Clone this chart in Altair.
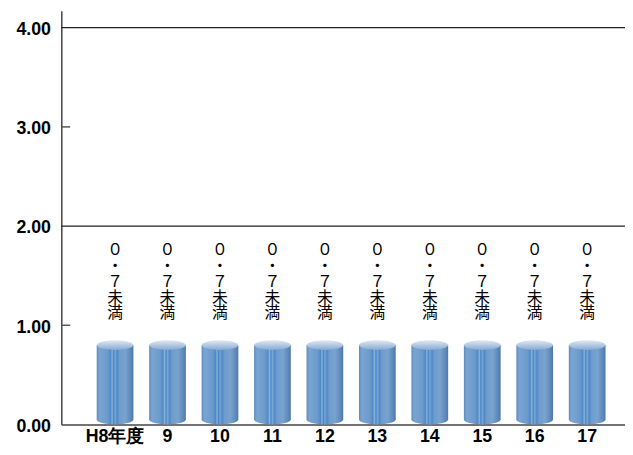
import altair as alt
import pandas as pd

# ---- data ----
years = ["H8年度", "9", "10", "11", "12", "13", "14", "15", "16", "17"]
values = [0.8, 0.8, 0.8, 0.8, 0.8, 0.8, 0.8, 0.8, 0.8, 0.8]
notes = ["0.7未満"] * 10
y_ticks = [0, 1, 2, 3, 4]
grid_values = [2, 4]
minor_ticks = [1, 3]

# vertical writing of the note (full-width characters, one per line)
fw = str.maketrans("0123456789.", "０１２３４５６７８９・")
df = pd.DataFrame({
    "year": years,
    "value": values,
    "note": ["\n".join(n.translate(fw)) for n in notes],
})
grid_df = pd.DataFrame({"g": grid_values})
tick_df = pd.DataFrame({"t": minor_ticks})

LABEL_FONT = "Liberation Sans"

y_scale = alt.Scale(domain=[0, 4.17], nice=False, zero=True)
y_axis = alt.Axis(title=None, values=y_ticks, format=".2f", grid=False, ticks=False,
                  domainColor="#444", domainWidth=1.5, labelFont=LABEL_FONT,
                  labelFontSize=18, labelFontWeight="bold", labelColor="black",
                  labelPadding=11, labelOffset=2)
x_enc = alt.X(
    "year:N", sort=years,
    scale=alt.Scale(paddingInner=0.3, paddingOuter=0.523, align=0.645),
    axis=alt.Axis(title=None, labelAngle=0, ticks=False, domainColor="#444",
                  domainWidth=1.5, labelFont=LABEL_FONT, labelFontWeight="bold",
                  labelFontSize=18, labelColor="black", labelPadding=3),
)
y_enc = alt.Y("value:Q", scale=y_scale, axis=y_axis)

body_grad = alt.Gradient(
    gradient="linear", x1=0, x2=1, y1=0, y2=0,
    stops=[
        alt.GradientStop(offset=0.0, color="#5d8cc0"),
        alt.GradientStop(offset=0.08, color="#7aa5d2"),
        alt.GradientStop(offset=0.3, color="#6c9acb"),
        alt.GradientStop(offset=0.38, color="#4f8ac8"),
        alt.GradientStop(offset=0.42, color="#8ab4dc"),
        alt.GradientStop(offset=0.46, color="#4a86c8"),
        alt.GradientStop(offset=0.5, color="#79a6d4"),
        alt.GradientStop(offset=0.56, color="#4f8ac8"),
        alt.GradientStop(offset=0.62, color="#6e9ccd"),
        alt.GradientStop(offset=0.78, color="#79a3cf"),
        alt.GradientStop(offset=0.92, color="#5f8bbb"),
        alt.GradientStop(offset=1.0, color="#4d78a8"),
    ],
)
top_grad = alt.Gradient(
    gradient="linear", x1=0, x2=0, y1=0, y2=1,
    stops=[
        alt.GradientStop(offset=0.0, color="#e2e9f3"),
        alt.GradientStop(offset=1.0, color="#86a9d2"),
    ],
)
ELLIPSE = "M-1,0A1,0.27,0,1,1,1,0A1,0.27,0,1,1,-1,0Z"

base = alt.Chart(df)
body = base.mark_bar(fill=body_grad, y2Offset=-5).encode(
    x=x_enc, y=y_enc, y2=alt.datum(0)
)
grid = alt.Chart(grid_df).mark_rule(color="#222", strokeWidth=1.2).encode(
    y=alt.Y("g:Q", scale=y_scale, axis=y_axis)
)
ticks = alt.Chart(tick_df).mark_rule(color="#555", strokeWidth=1.5).encode(
    y=alt.Y("t:Q", scale=y_scale, axis=y_axis), x=alt.value(0), x2=alt.value(9)
)
bottom = base.mark_point(shape=ELLIPSE, size=1369, filled=True, fill=body_grad,
                         opacity=1, strokeWidth=0, yOffset=-5).encode(
    x=alt.X("year:N", sort=years), y=alt.datum(0)
)
top = base.mark_point(shape=ELLIPSE, size=1369, filled=True, fill=top_grad,
                      opacity=1, strokeWidth=0).encode(
    x=alt.X("year:N", sort=years), y=alt.Y("value:Q", scale=y_scale, axis=y_axis)
)
text = base.mark_text(lineBreak="\n", font="Noto Sans CJK JP", fontSize=16,
                      lineHeight=16, baseline="middle", dy=-96, color="black").encode(
    x=alt.X("year:N", sort=years), y=alt.Y("value:Q", scale=y_scale, axis=y_axis),
    text="note:N"
)

chart = alt.layer(body, grid, ticks, bottom, top, text).properties(
    width=571, height=419,
    autosize=alt.AutoSizeParams(type="none"),
    padding={"left": 54, "top": 0, "right": 0, "bottom": 24},
).configure_view(stroke=None)

chart.save("out.html", embed_options={"renderer": "svg", "actions": False})
